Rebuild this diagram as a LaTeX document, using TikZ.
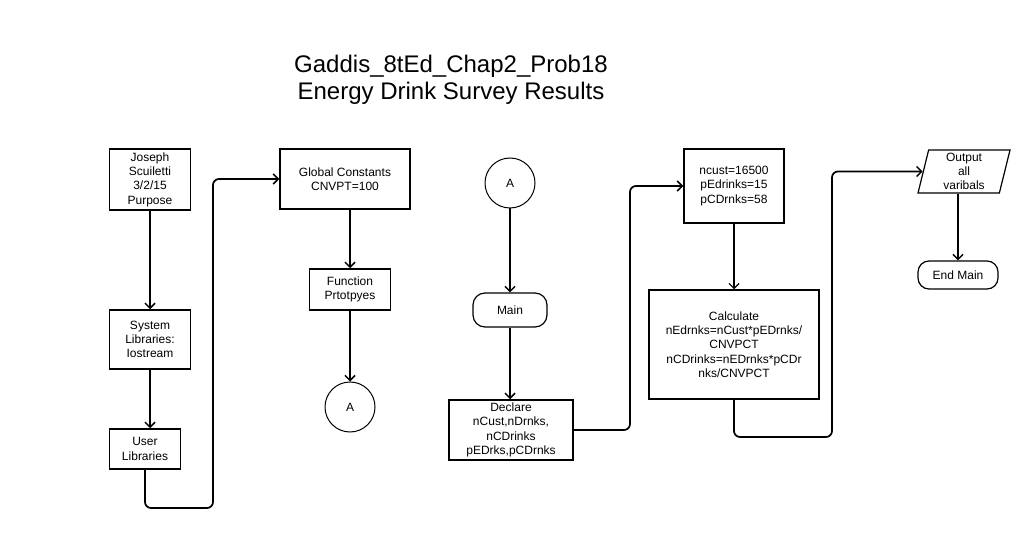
\documentclass[tikz,border=0pt]{standalone}
\usepackage{fontspec}
\setmainfont{Liberation Sans}
\usetikzlibrary{arrows.meta,shapes.geometric}
\begin{document}
\begin{tikzpicture}[x=1pt,y=-1pt,
  every node/.style={font=\fontsize{12}{14.3}\selectfont, align=center, inner sep=0pt},
  box/.style={draw, line width=1.5pt, rectangle},
  term/.style={draw, line width=1.2pt, rounded corners=12pt},
  conn/.style={draw, line width=1.7pt, rounded corners=6pt, -{Straight Barb[length=5pt,width=10pt,line width=1.5pt]}},
  thinconn/.style={draw, line width=1.2pt, -{Straight Barb[length=5pt,width=10pt,line width=1.2pt]}},
  onpage/.style={draw, circle, line width=1pt, minimum size=50pt}
]
\useasboundingbox[fill=white] (0,0) rectangle (1024,534);

\node[font=\fontsize{24}{27}\selectfont] (title) at (451,80) {Gaddis\_8tEd\_Chap2\_Prob18\\Energy Drink Survey Results};

\node[box, minimum width=81pt, minimum height=61pt] (jo) at (150,179.5) {Joseph\\Scuiletti\\3/2/15\\Purpose};
\node[box, minimum width=81pt, minimum height=59pt] (sl) at (150,339.5) {System\\Libraries:\\Iostream};
\node[box, minimum width=71pt, minimum height=40pt] (ul) at (145,449) {User\\Libraries};

\node[box, minimum width=130pt, minimum height=60pt] (gc) at (345,179) {Global Constants\\CNVPT=100};
\node[box, minimum width=81pt, minimum height=41pt] (fp) at (350,289.5) {Function\\Prtotpyes};
\node[onpage] (a1) at (350,407) {A};

\node[onpage] (a2) at (510,183) {A};
\node[term, minimum width=74pt, minimum height=34pt] (mn) at (510,310) {Main};
\node[box, minimum width=124pt, minimum height=60pt] (dc) at (511,430) {Declare\\nCust,nDrnks,\\nCDrinks\\pEDrks,pCDrnks};

\node[box, minimum width=100pt, minimum height=74pt] (nc) at (734,186) {ncust=16500\\pEdrinks=15\\pCDrnks=58};
\node[box, minimum width=170pt, minimum height=109pt] (cl) at (734,344.5) {Calculate\\nEdrnks=nCust*pEDrnks/\\CNVPCT\\nCDrinks=nEDrnks*pCDr\\nks/CNVPCT};

\node[draw, trapezium, trapezium left angle=74, trapezium right angle=106, trapezium stretches body=true, line width=1.2pt, minimum width=92pt, minimum height=43pt] (out) at (964,171.5) {Output\\all\\varibals};
\node[term, minimum width=80pt, minimum height=28pt, rounded corners=11pt] (em) at (958,275) {End Main};

\coordinate (b1) at (213,508);
\coordinate (b2) at (630,300);
\coordinate (b3) at (832,437);

\draw[conn] (jo) -- (sl);
\draw[conn] (sl.south) -- (sl.south |- ul.north);
\draw[conn] (ul.south) |- (b1) |- (gc.west);
\draw[conn] (fp.north |- gc.south) -- (fp.north);
\draw[conn] (fp) -- (a1);
\draw[conn] (a2) -- (mn);
\draw[conn] (mn.south) -- (mn.south |- dc.north);
\draw[conn] (dc.east) -| (b2) |- (nc.west);
\draw[thinconn] (nc) -- (cl);
\draw[conn] (cl.south) |- (b3) |- (out.west);
\draw[conn] (out.south -| em.north) -- (em.north);
\end{tikzpicture}
\end{document}
